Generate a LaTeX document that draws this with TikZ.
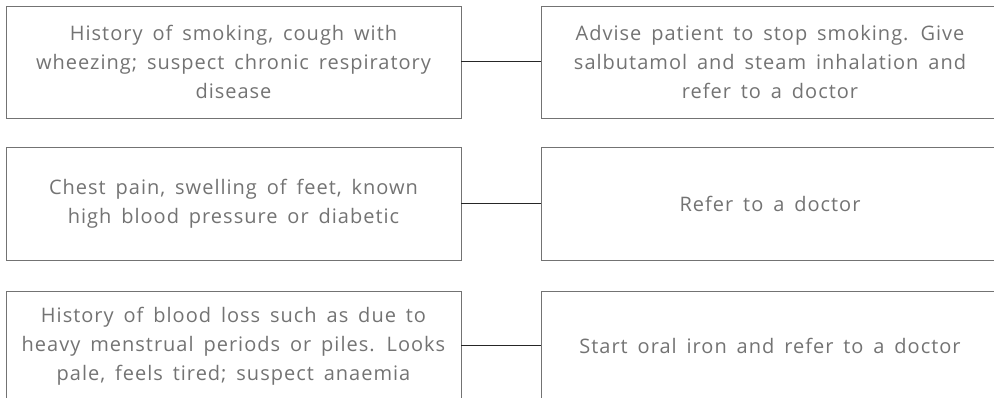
\documentclass[tikz,border=0pt]{standalone}
\usepackage{fontspec}
\setmainfont{Open Sans}[LetterSpace=5,WordSpace=1.6]
\begin{document}
\begin{tikzpicture}[x=1pt,y=1pt,
  box/.style={draw=black!55, line width=0.6pt, minimum width=455pt,
    minimum height=112pt, align=center, text=black!55,
    font=\fontsize{20}{29}\selectfont, inner sep=0pt},
  link/.style={draw=black!85, line width=1pt}]
\useasboundingbox (0,0) rectangle (994,398);
\clip (0,0) rectangle (994,398);
\node[box] (s1) at (233.5,336) {History of smoking, cough with\\wheezing; suspect chronic respiratory\\disease};
\node[box, minimum width=458pt] (a1) at (770,336) {Advise patient to stop smoking. Give\\salbutamol and steam inhalation and\\refer to a doctor};
\node[box, minimum height=113pt] (s2) at (233.5,194.5) {Chest pain, swelling of feet, known\\high blood pressure or diabetic};
\node[box, minimum height=113pt, minimum width=458pt] (a2) at (770,194.5) {Refer to a doctor};
\node[box, minimum height=110pt] (s3) at (233.5,52) {History of blood loss such as due to\\heavy menstrual periods or piles. Looks\\pale, feels tired; suspect anaemia};
\node[box, minimum height=110pt, minimum width=458pt] (a3) at (770,52) {Start oral iron and refer to a doctor};
\draw[link] (s1.east) -- (a1.west);
\draw[link] (s2.east) -- (a2.west);
\draw[link] (s3.east) -- (a3.west);
\end{tikzpicture}
\end{document}
